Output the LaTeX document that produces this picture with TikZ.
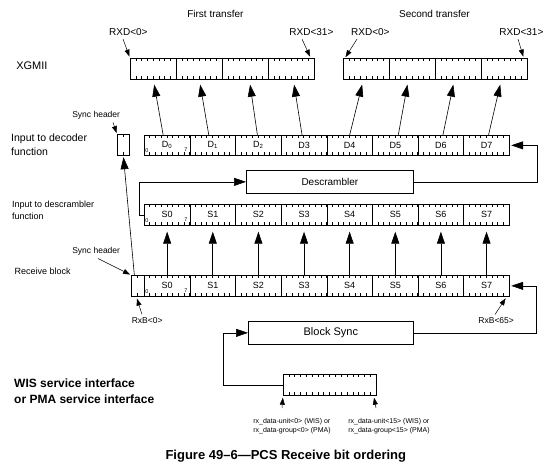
\documentclass[tikz,border=0pt]{standalone}
\usepackage{fontspec}
\setmainfont{Liberation Sans}
\usetikzlibrary{arrows.meta}

\newcommand{\fsz}[1]{\fontsize{#1}{#1}\selectfont}
% ticks of the bit cells: x left, y top, y bottom, bit width, count
\newcommand{\bitticks}[5]{%
    \foreach \bt in {1,...,#5}{%
        \draw[bittick] ({#1+\bt*#4}, #2) -- ++(0, 3) ({#1+\bt*#4}, #3) -- ++(0, -3);
    }%
}

\tikzset{
    octet/.style={draw, line width=0.7pt, minimum width=45.625pt, minimum height=21pt,
        inner sep=0pt, anchor=north west, font=\fsz{9}},
    funcbox/.style={draw, line width=0.7pt, inner sep=0pt, anchor=north west},
    bittick/.style={line width=0.5pt},
    bitnum/.style={inner sep=0pt, font=\fsz{5.5}},
    bigarrow/.style={-{Triangle[length=12pt, width=8pt]}, line width=0.6pt},
    lblarrow/.style={-{Triangle[length=7pt, width=5pt]}, line width=0.5pt},
    sidelbl/.style={anchor=west, inner sep=0pt, align=left},
}

\begin{document}
\begin{tikzpicture}[x=1pt, y=-1pt]
    \useasboundingbox (0, 0) rectangle (554, 464);

    %%%%%%%%%%%%%%%%%%%%%%%%%%%%%%%%%%%%%%%%%%%%%%%%%%%%%%
    % XGMII

    \node(first) at (214, 14) {\fsz{10} First transfer};
    \node(second) at (433, 14) {\fsz{10} Second transfer};
    \node[sidelbl](xgmii) at (13, 66) {\fsz{11} XGMII};

    \foreach \i in {1,...,4} {
        \node[octet, minimum width=46pt] (xa\i) at ({130+(\i-1)*46}, 58) {};
        \node[octet, minimum width=46pt] (xb\i) at ({343+(\i-1)*46}, 58) {};
    }
    \bitticks{130}{58}{79}{5.75}{31}
    \bitticks{343}{58}{79}{5.75}{31}

    \node(rxda0) at (127, 32) {\fsz{10} RXD<0>};
    \node(rxda31) at (310, 32) {\fsz{10} RXD<31>};
    \node(rxdb0) at (369, 32) {\fsz{10} RXD<0>};
    \node(rxdb31) at (520, 32) {\fsz{10} RXD<31>};
    \draw[lblarrow, shorten >=1.5pt] ([xshift=-4pt]rxda0.south) -- (xa1.north west);
    \draw[lblarrow, shorten >=1.5pt] ([xshift=-8pt]rxda31.south) -- ([xshift=-4pt]xa4.north east);
    \draw[lblarrow, shorten >=1pt] ([xshift=-12pt]rxdb0.south) -- ([xshift=2pt]xb1.north west);
    \draw[lblarrow, shorten >=1.5pt] ([xshift=-2pt]rxdb31.south) -- ([xshift=-4pt]xb4.north east);

    %%%%%%%%%%%%%%%%%%%%%%%%%%%%%%%%%%%%%%%%%%%%%%%%%%%%%%
    % input to decoder

    \node[sidelbl, font=\fontsize{10.5}{14}\selectfont](decin) at (11, 145) {Input to decoder\\function};
    \node(synchd) at (95, 115) {\fsz{8.5} Sync header};

    \node[octet, minimum width=12pt] (syncd) at (117, 134) {};
    \bitticks{117}{134}{155}{6}{1}
    \foreach \i/\lbl in {0/D\textsubscript{0}, 1/D\textsubscript{1}, 2/D\textsubscript{2},
                         3/D3, 4/D4, 5/D5, 6/D6, 7/D7}
        \node[octet, minimum height=20pt] (d\i) at ({144+\i*45.625}, 135) {\lbl};
    \bitticks{144}{135}{155}{5.703}{63}
    \node[bitnum](d0lo) at (147, 151) {0};
    \node[bitnum](d0hi) at (186, 150) {7};

    \draw[lblarrow, shorten >=1pt] ([xshift=18pt]synchd.south) -- (syncd.north west);

    \draw[bigarrow, shorten >=5pt] ([xshift=-4pt]d0.north) -- (xa1.south);
    \draw[bigarrow, shorten >=5pt] ([xshift=-4pt]d1.north) -- (xa2.south);
    \draw[bigarrow, shorten >=5pt] ([xshift=-1pt]d2.north) -- ([xshift=4pt]xa3.south);
    \draw[bigarrow, shorten >=5pt] ([xshift=-2pt]d3.north) -- ([xshift=2pt]xa4.south);
    \draw[bigarrow, shorten >=5pt] (d4.north) -- ([xshift=-3pt]xb1.south);
    \draw[bigarrow, shorten >=5pt] ([xshift=3pt]d5.north) -- ([xshift=-4pt]xb2.south);
    \draw[bigarrow, shorten >=5pt] ([xshift=2pt]d6.north) -- ([xshift=-4pt]xb3.south);
    \draw[bigarrow, shorten >=5pt] ([xshift=2pt]d7.north) -- ([xshift=-3pt]xb4.south);

    %%%%%%%%%%%%%%%%%%%%%%%%%%%%%%%%%%%%%%%%%%%%%%%%%%%%%%
    % descrambler

    \node[funcbox, minimum width=167pt, minimum height=23pt, font=\fsz{10}] (descr) at (246, 170) {Descrambler};

    \node[sidelbl, font=\fontsize{9}{12}\selectfont](descin) at (12, 210) {Input to descrambler\\function};
    \foreach \i in {0,...,7}
        \node[octet] (s\i) at ({144+\i*45.625}, 204) {S\i};
    \bitticks{144}{204}{225}{5.703}{63}
    \node[bitnum](s0lo) at (147, 221) {0};
    \node[bitnum](s0hi) at (186, 220) {7};

    \coordinate (dloop) at (537, 0);
    \draw[bigarrow] (s0.west) -- ++(-5, 0) |- (descr.west);
    \draw[bigarrow, shorten >=1.5pt] (descr.east) -- (descr.east -| dloop) |- (d7.east);

    %%%%%%%%%%%%%%%%%%%%%%%%%%%%%%%%%%%%%%%%%%%%%%%%%%%%%%
    % receive block

    \node[sidelbl](rcvblk) at (12, 271) {\fsz{9} Receive block};
    \node(synchr) at (95, 251) {\fsz{8.5} Sync header};

    \node[octet, minimum width=13pt] (syncr) at (131, 275) {};
    \bitticks{131}{275}{296}{6.5}{1}
    \foreach \i in {0,...,7}
        \node[octet] (r\i) at ({144+\i*45.625}, 275) {S\i};
    \bitticks{144}{275}{296}{5.703}{63}
    \node[bitnum](r0lo) at (147, 292) {0};
    \node[bitnum](r0hi) at (186, 291) {7};

    \draw[lblarrow, shorten >=1pt] ([xshift=3pt]synchr.south) -- (syncr.north west);
    \draw[bigarrow, shorten >=1.5pt] ([xshift=-3.5pt]syncr.north) -- (syncd.south);
    \foreach \i in {0,...,7}
        \draw[bigarrow, shorten >=6pt] (r\i.north) -- (s\i.south);

    \node(rxb0) at (146, 321) {\fsz{8.5} RxB<0>};
    \node(rxb65) at (495, 321) {\fsz{8.5} RxB<65>};
    \draw[lblarrow, shorten >=2pt] ([xshift=-4pt]rxb0.north) -- ([xshift=-1.5pt]syncr.south);
    \draw[lblarrow, shorten >=2pt] (rxb65.north) -- ([xshift=-3pt]r7.south east);

    %%%%%%%%%%%%%%%%%%%%%%%%%%%%%%%%%%%%%%%%%%%%%%%%%%%%%%
    % block sync and service interface

    \node[funcbox, minimum width=165pt, minimum height=23pt, font=\fsz{11}] (bsync) at (248, 321) {Block Sync};
    \node[funcbox, minimum width=93pt, minimum height=21pt] (pma) at (283, 374) {};
    \bitticks{283}{374}{395}{5.8125}{15}

    \coordinate (rloop) at (536, 0);
    \coordinate (ploop) at (223, 0);
    \draw[bigarrow, shorten >=1.5pt] (bsync.east) -- (bsync.east -| rloop) |- (r7.east);
    \draw[bigarrow] (pma.west) -- (pma.west -| ploop) |- (bsync.west);

    \node[sidelbl, font=\bfseries\fontsize{12}{16}\selectfont](svcif) at (14, 391) {WIS service interface\\or PMA service interface};

    \node[inner sep=0pt, align=left, font=\fontsize{7}{9}\selectfont](pmalo) at (292, 426) {rx\_data-unit<0> (WIS) or\\rx\_data-group<0> (PMA)};
    \node[inner sep=0pt, align=left, font=\fontsize{7}{9}\selectfont](pmahi) at (389, 426) {rx\_data-unit<15> (WIS) or\\rx\_data-group<15> (PMA)};
    \draw[lblarrow, shorten >=2pt] ([xshift=-10pt, yshift=10pt]pmalo.north) -- (pma.south west);
    \draw[lblarrow, shorten >=2pt] ([xshift=-13pt, yshift=10pt]pmahi.north) -- ([xshift=-3pt]pma.south east);

    %%%%%%%%%%%%%%%%%%%%%%%%%%%%%%%%%%%%%%%%%%%%%%%%%%%%%%

    \node[font=\bfseries](caption) at (284, 456) {\fsz{13} Figure 49–6—PCS Receive bit ordering};
\end{tikzpicture}
\end{document}
